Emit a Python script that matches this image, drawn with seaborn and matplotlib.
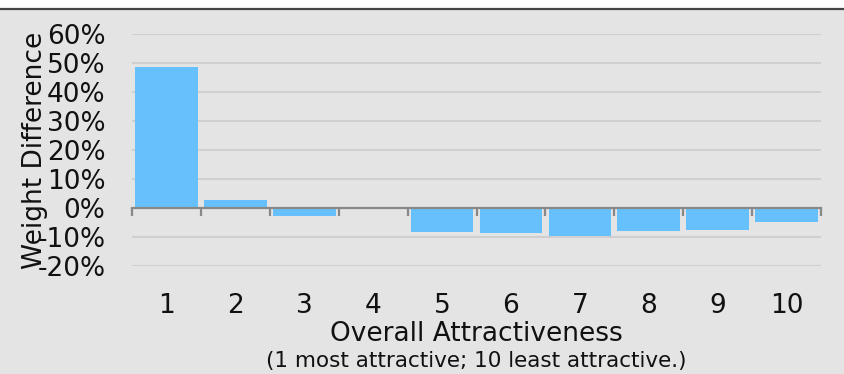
import matplotlib
matplotlib.use("Agg")
import matplotlib.pyplot as plt
import seaborn as sns
import pandas as pd
from matplotlib.ticker import FixedLocator, FuncFormatter

# Attractiveness ratings and weight difference (%) per rating
ratings = ["1", "2", "3", "4", "5", "6", "7", "8", "9", "10"]
weight_diff = [48.6, 2.6, -2.7, -0.4, -8.4, -8.5, -9.7, -8.0, -7.6, -4.9]
y_ticks = [-20, -10, 0, 10, 20, 30, 40, 50, 60]

df = pd.DataFrame({"rating": ratings, "diff": weight_diff})

sns.set_theme(style="white")
plt.rcParams["font.family"] = ["DejaVu Sans"]

bg = "#e4e4e4"
fig = plt.figure(figsize=(8.44, 3.74), dpi=100, facecolor="white")
# grey panel below a dark top rule
fig.patches.append(plt.Rectangle((0, 0), 1, 1 - 10 / 374, transform=fig.transFigure,
                                 facecolor=bg, edgecolor="none", zorder=-2))
fig.lines.append(plt.Line2D([0, 1], [1 - 9 / 374] * 2, transform=fig.transFigure,
                            color="#444444", linewidth=1.6))

ax = fig.add_axes([132 / 844, 1 - 266 / 374, 689 / 844, 232 / 374])
ax.set_facecolor("none")

sns.barplot(data=df, x="rating", y="diff", color="#66c0fc", saturation=1,
            width=0.91, linewidth=0, ax=ax, zorder=3)

ax.set_xlim(-0.5, len(ratings) - 0.5)
ax.set_ylim(-20, 60)

# horizontal grid
for v in y_ticks:
    if v != 0:
        ax.axhline(v, color="#cfcfcf", linewidth=1.5, zorder=1)

for s in ax.spines.values():
    s.set_visible(False)
ax.spines["bottom"].set_visible(True)
ax.spines["bottom"].set_position(("data", 0))
ax.spines["bottom"].set_color("#888888")
ax.spines["bottom"].set_linewidth(1.6)
ax.spines["bottom"].set_zorder(4)

label_size = 19

ax.yaxis.set_major_locator(FixedLocator(y_ticks))
ax.yaxis.set_major_formatter(FuncFormatter(lambda v, p: f"{int(v)}%"))
ax.tick_params(axis="y", left=False, length=0, pad=19, labelsize=label_size,
               labelcolor="#111111")

ax.xaxis.set_minor_locator(FixedLocator([i - 0.5 for i in range(len(ratings) + 1)]))
ax.tick_params(axis="x", which="major", bottom=True, length=0, pad=61,
               labelsize=label_size, labelcolor="#111111")
ax.tick_params(axis="x", which="minor", bottom=True, length=6, width=1.6,
               color="#888888", direction="out")

ax.set_xlabel("")
ax.set_ylabel("Weight Difference", fontsize=label_size, color="#111111")
ax.yaxis.set_label_coords(-0.122, 0.5)

fig.text(476 / 844, 1 - 334 / 374, "Overall Attractiveness", ha="center", va="center",
         fontsize=label_size, color="#111111")
fig.text(476 / 844, 1 - 361 / 374, "(1 most attractive; 10 least attractive.)",
         ha="center", va="center", fontsize=15.5, color="#111111")

fig.savefig("out.png", dpi=100, facecolor="white")
